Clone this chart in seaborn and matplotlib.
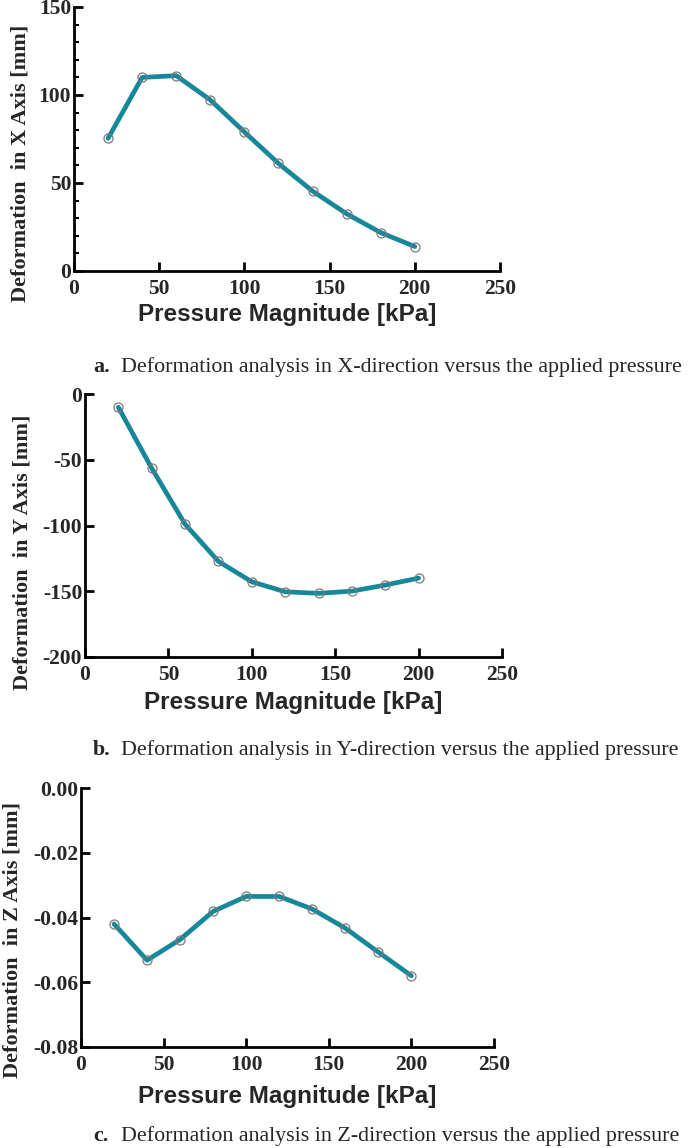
import matplotlib
matplotlib.use('Agg')
import matplotlib.pyplot as plt
import pandas as pd
import seaborn as sns
from matplotlib.ticker import MultipleLocator

FIG_W, FIG_H = 692, 1148

pressure = [20, 40, 60, 80, 100, 120, 140, 160, 180, 200]
deform_x = [75.4, 110.0, 111.0, 97.2, 79.0, 61.1, 45.4, 32.5, 21.8, 13.9]
deform_y = [-10.1, -56.5, -99.0, -127.3, -142.8, -150.4, -151.6, -149.9, -145.3, -140.0]
deform_z = [-0.0420, -0.0532, -0.0468, -0.0381, -0.0335, -0.0335, -0.0374, -0.0433, -0.0507, -0.0580]

y_labels = ['Deformation  in X Axis [mm]', 'Deformation  in Y Axis [mm]', 'Deformation  in Z Axis [mm]']
captions = [('a.', 'Deformation analysis in X-direction versus the applied pressure'),
            ('b.', 'Deformation analysis in Y-direction versus the applied pressure'),
            ('c.', 'Deformation analysis in Z-direction versus the applied pressure')]

LINE_COLOR = '#17879b'

sns.set_style('ticks')
plt.rcParams['font.family'] = ['Liberation Serif', 'DejaVu Serif']
plt.rcParams['axes.unicode_minus'] = False


def px_axes(fig, box):
    left, right, top, bottom = box
    return fig.add_axes([left / FIG_W, 1 - bottom / FIG_H, (right - left) / FIG_W, (bottom - top) / FIG_H])


def draw_panel(ax, values, ylabel, ylim, ystep, yminor, yfmt, ylab_pos, xlab_y, box):
    df = pd.DataFrame({'Pressure': pressure, 'Deformation': values})
    sns.lineplot(data=df, x='Pressure', y='Deformation', ax=ax, color=LINE_COLOR, linewidth=3.4,
                 marker='o', markersize=6.5, markerfacecolor='none', markeredgecolor='#7a7a7a',
                 markeredgewidth=0.9)
    ax.set_xlim(0, 250)
    ax.set_ylim(*ylim)
    ax.xaxis.set_major_locator(MultipleLocator(50))
    ax.yaxis.set_major_locator(MultipleLocator(ystep))
    if yminor:
        ax.yaxis.set_minor_locator(MultipleLocator(yminor))
    ax.yaxis.set_major_formatter(yfmt)
    for side in ['top', 'right']:
        ax.spines[side].set_visible(False)
    for side in ['left', 'bottom']:
        ax.spines[side].set_linewidth(2.0)
        ax.spines[side].set_color('black')
    ax.tick_params(axis='both', which='major', direction='in', length=6.5, width=2.0,
                   labelsize=15.5, color='black')
    ax.tick_params(axis='x', which='major', pad=6)
    ax.tick_params(axis='y', which='major', pad=2)
    ax.tick_params(axis='y', which='minor', direction='in', length=3.5, width=1.5, color='black')
    for lab in ax.get_xticklabels() + ax.get_yticklabels():
        lab.set_fontweight('bold')
    ax.set_xlabel('Pressure Magnitude [kPa]', fontsize=17.5, fontweight='bold',
                  family=['Liberation Sans', 'DejaVu Sans'], va='center')
    ax.set_ylabel(ylabel, fontsize=16, fontweight='bold', va='center')
    left, right, top, bottom = box
    lx, ly = ylab_pos
    ax.xaxis.set_label_coords(0.5, (bottom - xlab_y) / (bottom - top))
    ax.yaxis.set_label_coords((lx - left) / (right - left), (bottom - ly) / (bottom - top))


def main():
    fig = plt.figure(figsize=(FIG_W / 100, FIG_H / 100), dpi=100)

    boxes = [(74, 500, 7, 271), (85, 502, 394, 657), (81, 494, 788, 1047)]
    panels = [
        (deform_x, (0, 150), 50, 10, '{x:.0f}', (21, 163), 315),
        (deform_y, (-200, 0), 50, None, '{x:.0f}', (22, 552), 702),
        (deform_z, (-0.08, 0.0), 0.02, None, '{x:.2f}', (13, 940), 1096),
    ]
    for box, (vals, ylim, ystep, yminor, yfmt, lpos, xly), ylabel in zip(boxes, panels, y_labels):
        ax = px_axes(fig, box)
        draw_panel(ax, vals, ylabel, ylim, ystep, yminor, yfmt, lpos, xly, box)

    caption_base = [372, 755, 1141]
    for (tag, text), cy in zip(captions, caption_base):
        fig.text(93 / FIG_W, 1 - cy / FIG_H, tag, fontsize=15.8, fontweight='bold', va='baseline', ha='left')
        fig.text(121 / FIG_W, 1 - cy / FIG_H, text, fontsize=15.8, va='baseline', ha='left')

    fig.savefig('out.png', dpi=100)


if __name__ == "__main__":
    main()
